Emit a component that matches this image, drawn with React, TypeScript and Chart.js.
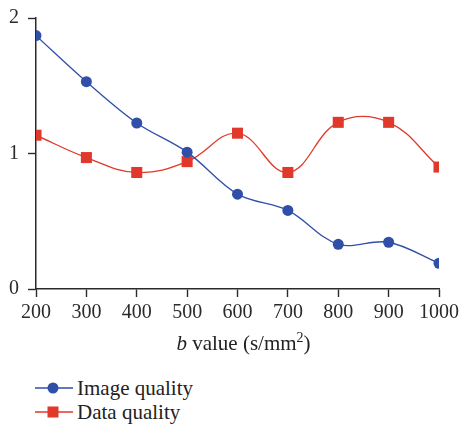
import React, { useEffect, useRef } from "react";
import { Chart, registerables } from "chart.js";

Chart.register(...registerables);

const bValues = [200, 300, 400, 500, 600, 700, 800, 900, 1000];
const imageQuality = [1.87, 1.53, 1.225, 1.01, 0.7, 0.58, 0.33, 0.345, 0.19];
const dataQuality = [1.135, 0.97, 0.86, 0.94, 1.15, 0.86, 1.23, 1.23, 0.9];
const yTicks = [0, 1, 2];
const seriesNames = ["Image quality", "Data quality"];

const BLUE = "#2f4fa8";
const RED = "#e0382a";
const AXIS = "#2a2a2a";
const FONT = "'Liberation Serif', 'Times New Roman', serif";

export default function App() {
  const ref = useRef<HTMLCanvasElement | null>(null);

  useEffect(() => {
    if (!ref.current) return;
    const chart = new Chart(ref.current, {
      type: "line",
      data: {
        datasets: [
          {
            label: seriesNames[0],
            data: bValues.map((x, i) => ({ x, y: imageQuality[i] })),
            borderColor: BLUE,
            backgroundColor: BLUE,
            borderWidth: 1.3,
            pointStyle: "circle",
            pointRadius: 5.5,
            pointBorderWidth: 0,
            tension: 0.35,
          },
          {
            label: seriesNames[1],
            data: bValues.map((x, i) => ({ x, y: dataQuality[i] })),
            borderColor: RED,
            backgroundColor: RED,
            borderWidth: 1.3,
            pointStyle: "rect",
            pointRadius: 7.8,
            pointBorderWidth: 0,
            tension: 0.4,
          },
        ],
      },
      options: {
        animation: false,
        responsive: false,
        maintainAspectRatio: false,
        layout: { padding: { left: 0, right: 21, top: 18, bottom: 0 } },
        plugins: { legend: { display: false }, tooltip: { enabled: false } },
        scales: {
          x: {
            type: "linear",
            min: 200,
            max: 1000,
            afterBuildTicks: (s: any) => {
              s.ticks = bValues.map((v) => ({ value: v }));
            },
            afterFit: (s: any) => {
              s.height = 71;
              s.paddingLeft = 0;
              s.paddingRight = 0;
            },
            ticks: {
              color: AXIS,
              font: { family: FONT, size: 20 },
              padding: 4,
              maxRotation: 0,
              callback: (v: any) => String(v),
            },
            grid: {
              display: true,
              drawOnChartArea: false,
              drawTicks: true,
              tickLength: 8,
              tickColor: AXIS,
              tickWidth: 1.4,
            },
            border: { display: true, color: AXIS, width: 1.5 },
          },
          y: {
            type: "linear",
            min: 0,
            max: 2,
            afterBuildTicks: (s: any) => {
              s.ticks = yTicks.map((v) => ({ value: v }));
            },
            afterFit: (s: any) => {
              s.width = 36;
              s.paddingTop = 0;
              s.paddingBottom = 0;
            },
            ticks: {
              color: AXIS,
              font: { family: FONT, size: 20 },
              padding: 9,
              callback: (v: any) => String(v),
            },
            grid: {
              display: true,
              drawOnChartArea: false,
              drawTicks: true,
              tickLength: 8,
              tickColor: AXIS,
              tickWidth: 1.4,
            },
            border: { display: true, color: AXIS, width: 1.5 },
          },
        },
      },
    });
    return () => chart.destroy();
  }, []);

  const legendRow = (top: number, color: string, shape: "circle" | "rect", label: string) => (
    <div style={{ position: "absolute", left: 35, top, height: 24, display: "flex", alignItems: "center" }}>
      <svg width={38} height={16} style={{ display: "block" }}>
        <line x1={0} y1={8} x2={38} y2={8} stroke={color} strokeWidth={1.3} />
        {shape === "circle" ? (
          <circle cx={18} cy={8} r={5.5} fill={color} />
        ) : (
          <rect x={12.5} y={2.5} width={11} height={11} fill={color} />
        )}
      </svg>
      <span style={{ marginLeft: 4, fontFamily: FONT, fontSize: 21, color: "#222", lineHeight: "24px" }}>{label}</span>
    </div>
  );

  return (
    <div style={{ position: "absolute", left: 0, top: 0, width: 460, height: 424, background: "#fff" }}>
      <canvas ref={ref} width={460} height={360} style={{ position: "absolute", left: 0, top: 0 }} />
      <div
        style={{
          position: "absolute",
          left: 42,
          width: 403,
          top: 331,
          textAlign: "center",
          fontFamily: FONT,
          fontSize: 21,
          color: "#222",
          lineHeight: "24px",
        }}
      >
        <i>b</i> value (s/mm<sup style={{ fontSize: 14, verticalAlign: "8px", lineHeight: 0 }}>2</sup>)
      </div>
      {legendRow(376, BLUE, "circle", seriesNames[0])}
      {legendRow(400, RED, "rect", seriesNames[1])}
    </div>
  );
}
